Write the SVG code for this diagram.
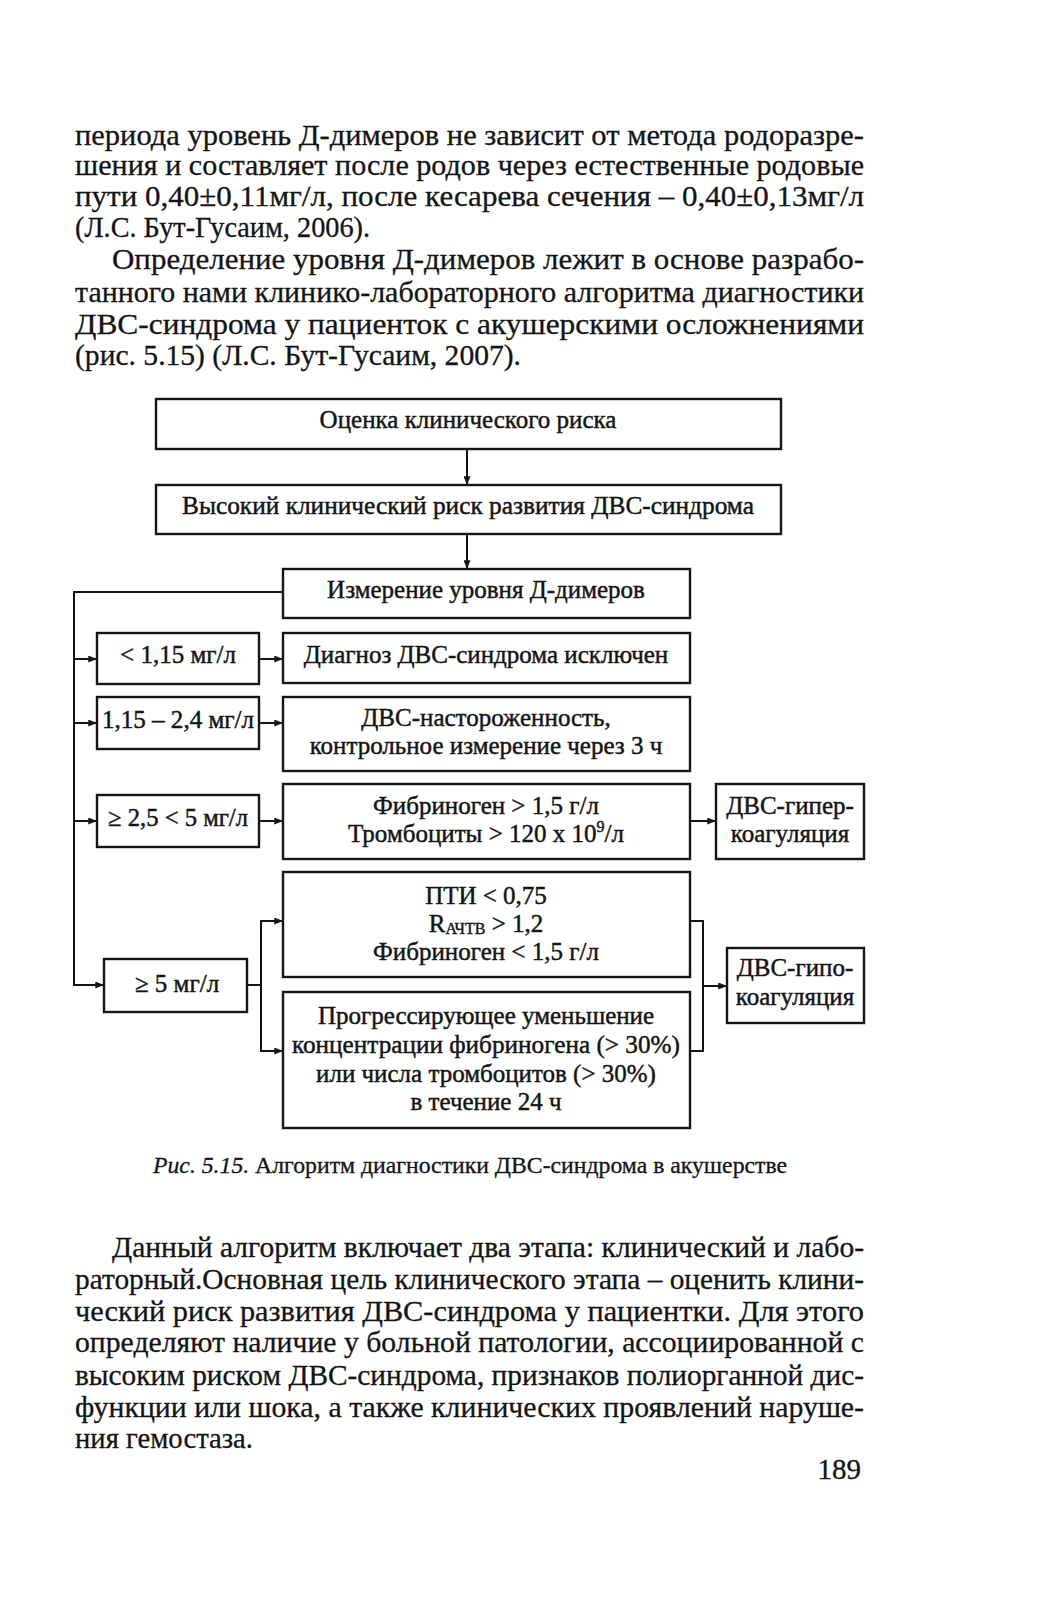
<svg xmlns="http://www.w3.org/2000/svg" width="1047" height="1601" viewBox="0 0 1047 1601">
<defs>
<style>
.body{font-family:"Liberation Serif","Times New Roman",serif;font-size:29px;fill:#141414;stroke:#141414;stroke-width:0.3}
.lbl{font-family:"Liberation Serif","Times New Roman",serif;font-size:25px;fill:#141414;stroke:#141414;stroke-width:0.45;text-anchor:middle}
.box{fill:#fff;stroke:#141414;stroke-width:2.4}
.con{fill:none;stroke:#141414;stroke-width:2}
.cap{font-family:"Liberation Serif","Times New Roman",serif;font-size:23px;fill:#141414;stroke:#141414;stroke-width:0.3}
</style>
<marker id="arr" viewBox="0 0 10 8" refX="10" refY="4" markerWidth="11" markerHeight="7" markerUnits="userSpaceOnUse" orient="auto">
<path d="M0,0 L10,4 L0,8 Z" fill="#141414"/>
</marker>
</defs>
<rect width="1047" height="1601" fill="#fff"/>

<g id="text-top">
<text class="body" x="75" y="145" textLength="789" lengthAdjust="spacingAndGlyphs">периода уровень Д-димеров не зависит от метода родоразре-</text>
<text class="body" x="75" y="175" textLength="789" lengthAdjust="spacingAndGlyphs">шения и составляет после родов через естественные родовые</text>
<text class="body" x="75" y="206" textLength="789" lengthAdjust="spacingAndGlyphs">пути 0,40±0,11мг/л, после кесарева сечения – 0,40±0,13мг/л</text>
<text class="body" x="75" y="237" textLength="295" lengthAdjust="spacingAndGlyphs">(Л.С. Бут-Гусаим, 2006).</text>
<text class="body" x="112" y="269" textLength="752" lengthAdjust="spacingAndGlyphs">Определение уровня Д-димеров лежит в основе разрабо-</text>
<text class="body" x="75" y="302" textLength="789" lengthAdjust="spacingAndGlyphs">танного нами клинико-лабораторного алгоритма диагностики</text>
<text class="body" x="75" y="334" textLength="789" lengthAdjust="spacingAndGlyphs">ДВС-синдрома у пациенток с акушерскими осложнениями</text>
<text class="body" x="75" y="365" textLength="446" lengthAdjust="spacingAndGlyphs">(рис. 5.15) (Л.С. Бут-Гусаим, 2007).</text>
</g>

<g id="connectors">
<line class="con" x1="467" y1="449" x2="467" y2="485" marker-end="url(#arr)"/>
<line class="con" x1="467" y1="534" x2="467" y2="569" marker-end="url(#arr)"/>
<polyline class="con" points="283,592 74,592 74,985 104,985" marker-end="url(#arr)"/>
<line class="con" x1="74" y1="659" x2="97" y2="659" marker-end="url(#arr)"/>
<line class="con" x1="74" y1="723" x2="97" y2="723" marker-end="url(#arr)"/>
<line class="con" x1="74" y1="821" x2="97" y2="821" marker-end="url(#arr)"/>
<line class="con" x1="259" y1="659" x2="283" y2="659" marker-end="url(#arr)"/>
<line class="con" x1="259" y1="723" x2="283" y2="723" marker-end="url(#arr)"/>
<line class="con" x1="259" y1="821" x2="283" y2="821" marker-end="url(#arr)"/>
<line class="con" x1="690" y1="821" x2="716" y2="821" marker-end="url(#arr)"/>
<polyline class="con" points="247,985 261,985"/>
<line class="con" x1="261" y1="921" x2="261" y2="1051"/>
<line class="con" x1="260" y1="921" x2="283" y2="921" marker-end="url(#arr)"/>
<line class="con" x1="260" y1="1051" x2="283" y2="1051" marker-end="url(#arr)"/>
<polyline class="con" points="690,921 703,921 703,1051 690,1051"/>
<line class="con" x1="703" y1="986" x2="727" y2="986" marker-end="url(#arr)"/>
</g>

<g id="n-risk">
<rect class="box" x="156" y="399" width="625" height="50"/>
<text class="lbl" x="468" y="428">Оценка клинического риска</text>
</g>
<g id="n-high">
<rect class="box" x="156" y="485" width="625" height="49"/>
<text class="lbl" x="468" y="514" textLength="572" lengthAdjust="spacingAndGlyphs">Высокий клинический риск развития ДВС-синдрома</text>
</g>
<g id="n-measure">
<rect class="box" x="283" y="569" width="407" height="49"/>
<text class="lbl" x="486" y="598">Измерение уровня Д-димеров</text>
</g>
<g id="n-lt115">
<rect class="box" x="97" y="633" width="162" height="51"/>
<text class="lbl" x="178" y="663">&lt; 1,15 мг/л</text>
</g>
<g id="n-excluded">
<rect class="box" x="283" y="633" width="407" height="50"/>
<text class="lbl" x="486" y="663">Диагноз ДВС-синдрома исключен</text>
</g>
<g id="n-115-24">
<rect class="box" x="97" y="697" width="162" height="52"/>
<text class="lbl" x="178" y="728" textLength="152" lengthAdjust="spacingAndGlyphs">1,15 – 2,4 мг/л</text>
</g>
<g id="n-alert">
<rect class="box" x="283" y="697" width="407" height="74"/>
<text class="lbl" x="486" y="726">ДВС-настороженность,</text>
<text class="lbl" x="486" y="754">контрольное измерение через 3 ч</text>
</g>
<g id="n-25-5">
<rect class="box" x="97" y="795" width="162" height="52"/>
<text class="lbl" x="178" y="826" textLength="140" lengthAdjust="spacingAndGlyphs">≥ 2,5 &lt; 5 мг/л</text>
</g>
<g id="n-fib-high">
<rect class="box" x="283" y="784" width="407" height="75"/>
<text class="lbl" x="486" y="814">Фибриноген &gt; 1,5 г/л</text>
<text class="lbl" x="486" y="842">Тромбоциты &gt; 120 x 10<tspan font-size="16" dy="-10">9</tspan><tspan dy="10">/л</tspan></text>
</g>
<g id="n-hyper">
<rect class="box" x="716" y="784" width="148" height="75"/>
<text class="lbl" x="790" y="814">ДВС-гипер-</text>
<text class="lbl" x="790" y="842">коагуляция</text>
</g>
<g id="n-ge5">
<rect class="box" x="104" y="959" width="143" height="53"/>
<text class="lbl" x="177" y="992">≥ 5 мг/л</text>
</g>
<g id="n-pti">
<rect class="box" x="283" y="872" width="407" height="105"/>
<text class="lbl" x="486" y="904">ПТИ &lt; 0,75</text>
<text class="lbl" x="486" y="932">R<tspan font-size="16" dy="2">АЧТВ</tspan><tspan dy="-2"> &gt; 1,2</tspan></text>
<text class="lbl" x="486" y="960">Фибриноген &lt; 1,5 г/л</text>
</g>
<g id="n-progress">
<rect class="box" x="283" y="992" width="407" height="136"/>
<text class="lbl" x="486" y="1024">Прогрессирующее уменьшение</text>
<text class="lbl" x="486" y="1053" textLength="388" lengthAdjust="spacingAndGlyphs">концентрации фибриногена (&gt; 30%)</text>
<text class="lbl" x="486" y="1082">или числа тромбоцитов (&gt; 30%)</text>
<text class="lbl" x="486" y="1110">в течение 24 ч</text>
</g>
<g id="n-hypo">
<rect class="box" x="727" y="948" width="137" height="75"/>
<text class="lbl" x="795" y="976">ДВС-гипо-</text>
<text class="lbl" x="795" y="1005">коагуляция</text>
</g>

<g id="caption">
<text class="cap" x="153" y="1173" textLength="634" lengthAdjust="spacingAndGlyphs"><tspan font-style="italic">Рис. 5.15.</tspan> Алгоритм диагностики ДВС-синдрома в акушерстве</text>
</g>

<g id="text-bottom">
<text class="body" x="112" y="1257" textLength="752" lengthAdjust="spacingAndGlyphs">Данный алгоритм включает два этапа: клинический и лабо-</text>
<text class="body" x="75" y="1289" textLength="789" lengthAdjust="spacingAndGlyphs">раторный.Основная цель клинического этапа – оценить клини-</text>
<text class="body" x="75" y="1321" textLength="789" lengthAdjust="spacingAndGlyphs">ческий риск развития ДВС-синдрома у пациентки. Для этого</text>
<text class="body" x="75" y="1352" textLength="789" lengthAdjust="spacingAndGlyphs">определяют наличие у больной патологии, ассоциированной с</text>
<text class="body" x="75" y="1385" textLength="789" lengthAdjust="spacingAndGlyphs">высоким риском ДВС-синдрома, признаков полиорганной дис-</text>
<text class="body" x="75" y="1417" textLength="789" lengthAdjust="spacingAndGlyphs">функции или шока, а также клинических проявлений наруше-</text>
<text class="body" x="75" y="1448" textLength="178" lengthAdjust="spacingAndGlyphs">ния гемостаза.</text>
</g>

<g id="page-number">
<text class="body" x="861" y="1479" text-anchor="end">189</text>
</g>
</svg>
